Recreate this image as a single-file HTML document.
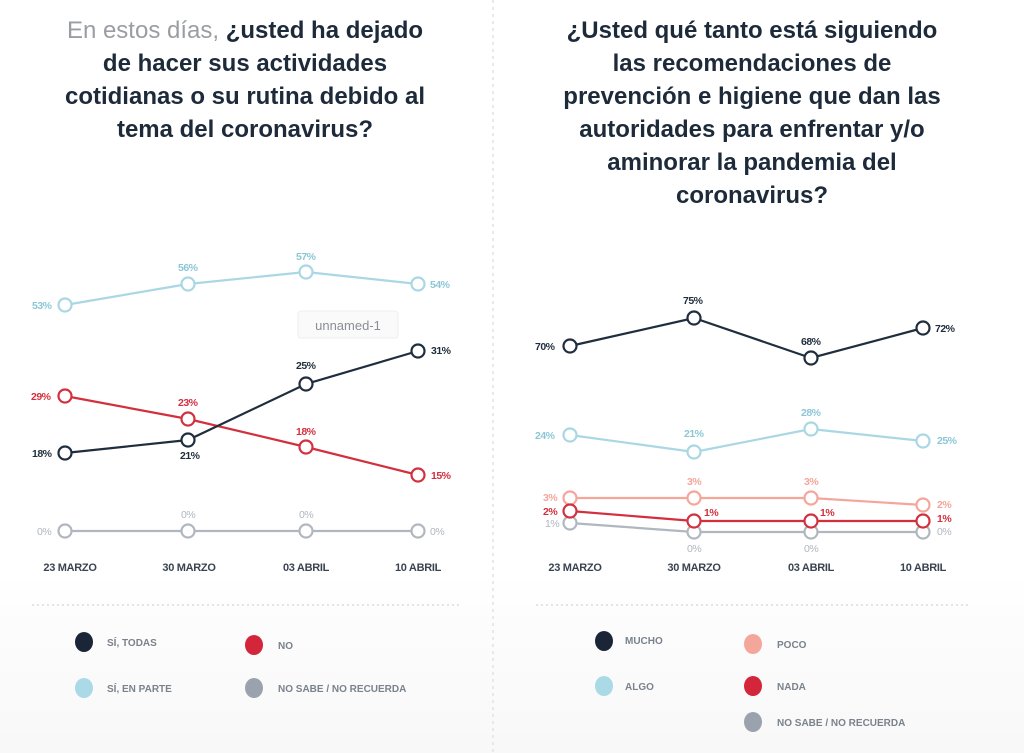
<!DOCTYPE html>
<html><head><meta charset="utf-8"><style>
html,body{margin:0;padding:0;background:#fff;}
svg{display:block;font-family:"Liberation Sans",sans-serif;}
</style></head><body>
<svg width="1024" height="753" viewBox="0 0 1024 753">
<defs><linearGradient id="bg" x1="0" y1="0" x2="0" y2="1"><stop offset="0" stop-color="#fff"/><stop offset="0.3" stop-color="#fcfcfc"/><stop offset="1" stop-color="#f8f8f8"/></linearGradient></defs>
<rect x="0" y="0" width="1024" height="753" fill="#fff"/>
<rect x="0" y="575" width="1024" height="178" fill="url(#bg)"/>
<line x1="493" y1="0" x2="493" y2="753" stroke="#e2e2e2" stroke-width="1.5" stroke-dasharray="3,4"/>
<line x1="32" y1="605" x2="460" y2="605" stroke="#dcdcdc" stroke-width="1.5" stroke-dasharray="2,3"/>
<line x1="536" y1="605" x2="968" y2="605" stroke="#dcdcdc" stroke-width="1.5" stroke-dasharray="2,3"/>

<g font-size="24" font-weight="bold" fill="#1d2a3a" text-anchor="middle">
<text x="245" y="38"><tspan fill="#9a9ea3" font-weight="normal">En estos días, </tspan>¿usted ha dejado</text>
<text x="245" y="71">de hacer sus actividades</text>
<text x="245" y="104">cotidianas o su rutina debido al</text>
<text x="245" y="137">tema del coronavirus?</text>
<text x="752" y="38">¿Usted qué tanto está siguiendo</text>
<text x="752" y="71">las recomendaciones de</text>
<text x="752" y="104">prevención e higiene que dan las</text>
<text x="752" y="137">autoridades para enfrentar y/o</text>
<text x="752" y="170">aminorar la pandemia del</text>
<text x="752" y="203">coronavirus?</text>
</g>

<g fill="#fff" stroke-width="2.2">
<polyline points="65,305 188,284 306,272 418,284" fill="none" stroke="#a9d7e3"/>
<polyline points="65,531 188,531 306,531 418,531" fill="none" stroke="#b0b7bf"/>
<polyline points="65,396 188,419 306,447 418,475" fill="none" stroke="#d3303f"/>
<polyline points="65,453 188,440 306,384 418,351" fill="none" stroke="#1f2d3d"/>
<g stroke="#a9d7e3"><circle cx="65" cy="305" r="6.5"/><circle cx="188" cy="284" r="6.5"/><circle cx="306" cy="272" r="6.5"/><circle cx="418" cy="284" r="6.5"/></g>
<g stroke="#b0b7bf"><circle cx="65" cy="531" r="6.5"/><circle cx="188" cy="531" r="6.5"/><circle cx="306" cy="531" r="6.5"/><circle cx="418" cy="531" r="6.5"/></g>
<g stroke="#d3303f"><circle cx="65" cy="396" r="6.5"/><circle cx="188" cy="419" r="6.5"/><circle cx="306" cy="447" r="6.5"/><circle cx="418" cy="475" r="6.5"/></g>
<g stroke="#1f2d3d"><circle cx="65" cy="453" r="6.5"/><circle cx="188" cy="440" r="6.5"/><circle cx="306" cy="384" r="6.5"/><circle cx="418" cy="351" r="6.5"/></g>

<polyline points="570,346 694,318 811,358 923,328" fill="none" stroke="#1f2d3d"/>
<polyline points="570,435 694,452 811,429 923,441" fill="none" stroke="#a9d7e3"/>
<polyline points="570,498 694,498 811,498 923,505" fill="none" stroke="#f4a69b"/>
<polyline points="570,523 694,532 811,532 923,532" fill="none" stroke="#b0b7bf"/>
<polyline points="570,511 694,521 811,521 923,521" fill="none" stroke="#d3303f"/>
<g stroke="#1f2d3d"><circle cx="570" cy="346" r="6.5"/><circle cx="694" cy="318" r="6.5"/><circle cx="811" cy="358" r="6.5"/><circle cx="923" cy="328" r="6.5"/></g>
<g stroke="#a9d7e3"><circle cx="570" cy="435" r="6.5"/><circle cx="694" cy="452" r="6.5"/><circle cx="811" cy="429" r="6.5"/><circle cx="923" cy="441" r="6.5"/></g>
<g stroke="#f4a69b"><circle cx="570" cy="498" r="6.5"/><circle cx="694" cy="498" r="6.5"/><circle cx="811" cy="498" r="6.5"/><circle cx="923" cy="505" r="6.5"/></g>
<g stroke="#b0b7bf"><circle cx="570" cy="523" r="6.5"/><circle cx="694" cy="532" r="6.5"/><circle cx="811" cy="532" r="6.5"/><circle cx="923" cy="532" r="6.5"/></g>
<g stroke="#d3303f"><circle cx="570" cy="511" r="6.5"/><circle cx="694" cy="521" r="6.5"/><circle cx="811" cy="521" r="6.5"/><circle cx="923" cy="521" r="6.5"/></g>
</g>

<g font-size="10.5" font-weight="bold" letter-spacing="-0.5">
<g fill="#8cc7d6"><text x="32" y="309">53%</text><text x="178" y="271">56%</text><text x="296" y="260">57%</text><text x="430" y="288">54%</text></g>
<g fill="#b0b7bf" font-weight="normal"><text x="37" y="535">0%</text><text x="181" y="518">0%</text><text x="299" y="518">0%</text><text x="430" y="535">0%</text></g>
<g fill="#d3303f"><text x="31" y="400">29%</text><text x="178" y="406">23%</text><text x="296" y="435">18%</text><text x="431" y="479">15%</text></g>
<g fill="#1f2d3d"><text x="32" y="457">18%</text><text x="180" y="459">21%</text><text x="296" y="369">25%</text><text x="431" y="354">31%</text></g>

<g fill="#1f2d3d"><text x="535" y="350">70%</text><text x="683" y="304">75%</text><text x="801" y="345">68%</text><text x="935" y="332">72%</text></g>
<g fill="#8cc7d6"><text x="535" y="439">24%</text><text x="684" y="437">21%</text><text x="801" y="416">28%</text><text x="937" y="444">25%</text></g>
<g fill="#f4a69b"><text x="543" y="501">3%</text><text x="687" y="485">3%</text><text x="804" y="485">3%</text><text x="937" y="508">2%</text></g>
<g fill="#d3303f"><text x="543" y="515">2%</text><text x="704" y="516">1%</text><text x="820" y="516">1%</text><text x="937" y="522">1%</text></g>
<g fill="#b0b7bf" font-weight="normal"><text x="545" y="527">1%</text><text x="687" y="552">0%</text><text x="804" y="552">0%</text><text x="937" y="535">0%</text></g>
</g>

<g font-size="11" font-weight="bold" fill="#3a4450" text-anchor="middle" letter-spacing="-0.3">
<text x="70" y="571">23 MARZO</text><text x="189" y="571">30 MARZO</text><text x="306" y="571">03 ABRIL</text><text x="418" y="571">10 ABRIL</text>
<text x="575" y="571">23 MARZO</text><text x="694" y="571">30 MARZO</text><text x="811" y="571">03 ABRIL</text><text x="923" y="571">10 ABRIL</text>
</g>

<rect x="298" y="311" width="100" height="27" rx="3" fill="#fafafa" stroke="#eee"/>
<text x="348" y="330" font-size="13" fill="#8a8f95" text-anchor="middle">unnamed-1</text>

<g>
<ellipse cx="84" cy="642" rx="9" ry="10" fill="#1a2638"/>
<ellipse cx="254" cy="645" rx="9" ry="10" fill="#d3263a"/>
<ellipse cx="84" cy="688" rx="9" ry="10" fill="#a9dae6"/>
<ellipse cx="254" cy="688" rx="9" ry="10" fill="#9aa3ad"/>
<ellipse cx="604" cy="641" rx="9" ry="10" fill="#1a2638"/>
<ellipse cx="753" cy="644" rx="9" ry="10" fill="#f4a69b"/>
<ellipse cx="604" cy="686" rx="9" ry="10" fill="#a9dae6"/>
<ellipse cx="753" cy="686" rx="9" ry="10" fill="#d3263a"/>
<ellipse cx="753" cy="722" rx="9" ry="10" fill="#9aa3ad"/>
</g>
<g font-size="10" font-weight="bold" fill="#7a828b">
<text x="107" y="646">SÍ, TODAS</text><text x="278" y="649">NO</text>
<text x="107" y="692">SÍ, EN PARTE</text><text x="278" y="692">NO SABE / NO RECUERDA</text>
<text x="625" y="644">MUCHO</text><text x="777" y="648">POCO</text>
<text x="625" y="690">ALGO</text><text x="777" y="690">NADA</text>
<text x="777" y="726">NO SABE / NO RECUERDA</text>
</g>
</svg>
</body></html>
